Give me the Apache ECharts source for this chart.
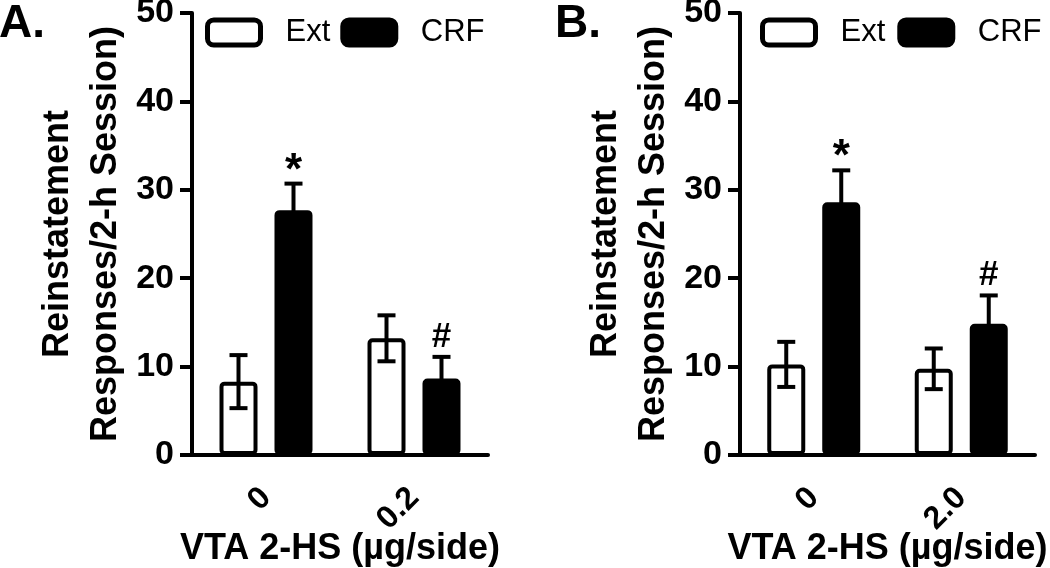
<!DOCTYPE html>
<html>
<head>
<meta charset="utf-8">
<script src="https://cdn.jsdelivr.net/npm/echarts@6/dist/echarts.min.js"></script>
<style>html,body{margin:0;padding:0;background:#fff}#c{width:1050px;height:568px}</style>
</head>
<body>
<div id="c"></div>
<script>
// ---- data ----
const categoriesA = ['0', '0.2'];
const categoriesB = ['0', '2.0'];
const extMeanA = [8.3, 13.2];
const extSemA  = [3.0, 2.6];
const crfMeanA = [27.7, 8.65];
const crfSemA  = [3.0, 2.45];
const extMeanB = [10.25, 9.75];
const extSemB  = [2.55, 2.3];
const crfMeanB = [28.6, 14.85];
const crfSemB  = [3.6, 3.2];
const extMarksA = ['', ''];
const crfMarksA = ['*', '#'];
const extMarksB = ['', ''];
const crfMarksB = ['*', '#'];
const yTicks = [0, 10, 20, 30, 40, 50];

// ---- styles ----
const FONT = 'Liberation Sans, Arial, Helvetica, sans-serif';
const BAR_W = 38;
const BAR_GAP_PX = 17;
const BAR_OFFSET = (BAR_W + BAR_GAP_PX) / 2;
const LW = 4;
const CAP = 18;
const MARK_STYLE = { '*': { size: 44, dy: 12 }, '#': { size: 35, dy: 20 } };

function errorSeries(means, sems, marks, side, axisIdx) {
  return {
    type: 'custom',
    xAxisIndex: axisIdx, yAxisIndex: axisIdx,
    z: 5,
    silent: true,
    data: means.map((m, i) => [i, m, sems[i], i]),
    renderItem: function (params, api) {
      const cat = api.value(0), m = api.value(1), s = api.value(2), idx = api.value(3);
      const c = api.coord([cat, m]);
      const x = c[0] + side * BAR_OFFSET;
      const yTop = api.coord([cat, m + s])[1];
      const yBot = api.coord([cat, m - s])[1];
      const st = { stroke: '#000', lineWidth: LW };
      const children = [
        { type: 'line', shape: { x1: x, y1: yBot, x2: x, y2: yTop }, style: st },
        { type: 'line', shape: { x1: x - CAP / 2, y1: yTop, x2: x + CAP / 2, y2: yTop }, style: st },
        { type: 'line', shape: { x1: x - CAP / 2, y1: yBot, x2: x + CAP / 2, y2: yBot }, style: st }
      ];
      const mk = marks[idx];
      if (mk) {
        const ms = MARK_STYLE[mk];
        children.push({
          type: 'text',
          style: {
            text: mk, x: x, y: yTop - ms.dy,
            align: 'center', verticalAlign: 'middle',
            font: 'bold ' + ms.size + 'px ' + FONT, fill: '#000'
          }
        });
      }
      return { type: 'group', children: children };
    }
  };
}

function barSeries(name, means, fill, axisIdx) {
  return {
    name: name, type: 'bar',
    xAxisIndex: axisIdx, yAxisIndex: axisIdx,
    data: means,
    barWidth: BAR_W,
    barGap: (BAR_GAP_PX / BAR_W * 100).toFixed(1) + '%',
    itemStyle: { color: fill, borderColor: '#000', borderWidth: LW, borderRadius: 3 },
    z: 2
  };
}

function xAxis(cats, idx) {
  return {
    type: 'category', gridIndex: idx, data: cats,
    boundaryGap: true,
    axisLine: { lineStyle: { color: '#000', width: LW } },
    axisTick: { alignWithLabel: true, length: 12, lineStyle: { color: '#000', width: LW } },
    axisLabel: { rotate: 45, margin: 38, color: '#000', fontSize: 32, fontWeight: 'bold', fontFamily: FONT },
    name: 'VTA 2-HS (µg/side)', nameLocation: 'middle', nameGap: 76, nameMoveOverlap: false,
    nameTextStyle: { color: '#000', fontSize: 36, fontWeight: 'bold', fontFamily: FONT }
  };
}

function yAxis(idx) {
  return {
    type: 'value', gridIndex: idx,
    min: yTicks[0], max: yTicks[yTicks.length - 1], interval: yTicks[1] - yTicks[0],
    splitLine: { show: false },
    axisLine: { show: true, lineStyle: { color: '#000', width: LW } },
    axisTick: { show: true, length: 12, lineStyle: { color: '#000', width: LW } },
    axisLabel: { margin: 18, color: '#000', fontSize: 34, fontWeight: 'bold', fontFamily: FONT },
    name: 'Reinstatement\nResponses/2-h Session)', nameLocation: 'middle', nameGap: 62, nameRotate: 90,
    nameMoveOverlap: false,
    nameTextStyle: { color: '#000', fontSize: 36, fontWeight: 'bold', fontFamily: FONT, lineHeight: 48 }
  };
}

function legend(left, gap) {
  return {
    left: left, top: 17, padding: 0,
    selectedMode: false,
    itemWidth: 53, itemHeight: 25, itemGap: gap,
    icon: 'roundRect',
    data: ['Ext', 'CRF'],
    itemStyle: { borderWidth: 5, borderColor: '#000' },
    textStyle: { color: '#000', fontSize: 31, fontFamily: FONT, padding: [0, 0, 0, 20] }
  };
}

const chart = echarts.init(document.getElementById('c'), null, { renderer: 'canvas' });
chart.setOption({
  animation: false,
  backgroundColor: '#fff',
  title: [
    { text: 'A.', left: -1, top: 1, padding: 0, textStyle: { color: '#000', fontSize: 46, fontWeight: 'bold', fontFamily: FONT } },
    { text: 'B.', left: 555, top: 1, padding: 0, textStyle: { color: '#000', fontSize: 46, fontWeight: 'bold', fontFamily: FONT } }
  ],
  legend: [legend(205, 10), legend(760, 12)],
  grid: [
    { left: 192, top: 13, width: 296, height: 442, containLabel: false, outerBoundsMode: 'none' },
    { left: 740, top: 13, width: 295, height: 442, containLabel: false, outerBoundsMode: 'none' }
  ],
  xAxis: [xAxis(categoriesA, 0), xAxis(categoriesB, 1)],
  yAxis: [yAxis(0), yAxis(1)],
  series: [
    barSeries('Ext', extMeanA, '#fff', 0),
    barSeries('CRF', crfMeanA, '#000', 0),
    errorSeries(extMeanA, extSemA, extMarksA, -1, 0),
    errorSeries(crfMeanA, crfSemA, crfMarksA, 1, 0),
    barSeries('Ext', extMeanB, '#fff', 1),
    barSeries('CRF', crfMeanB, '#000', 1),
    errorSeries(extMeanB, extSemB, extMarksB, -1, 1),
    errorSeries(crfMeanB, crfSemB, crfMarksB, 1, 1)
  ]
});
</script>
</body>
</html>
